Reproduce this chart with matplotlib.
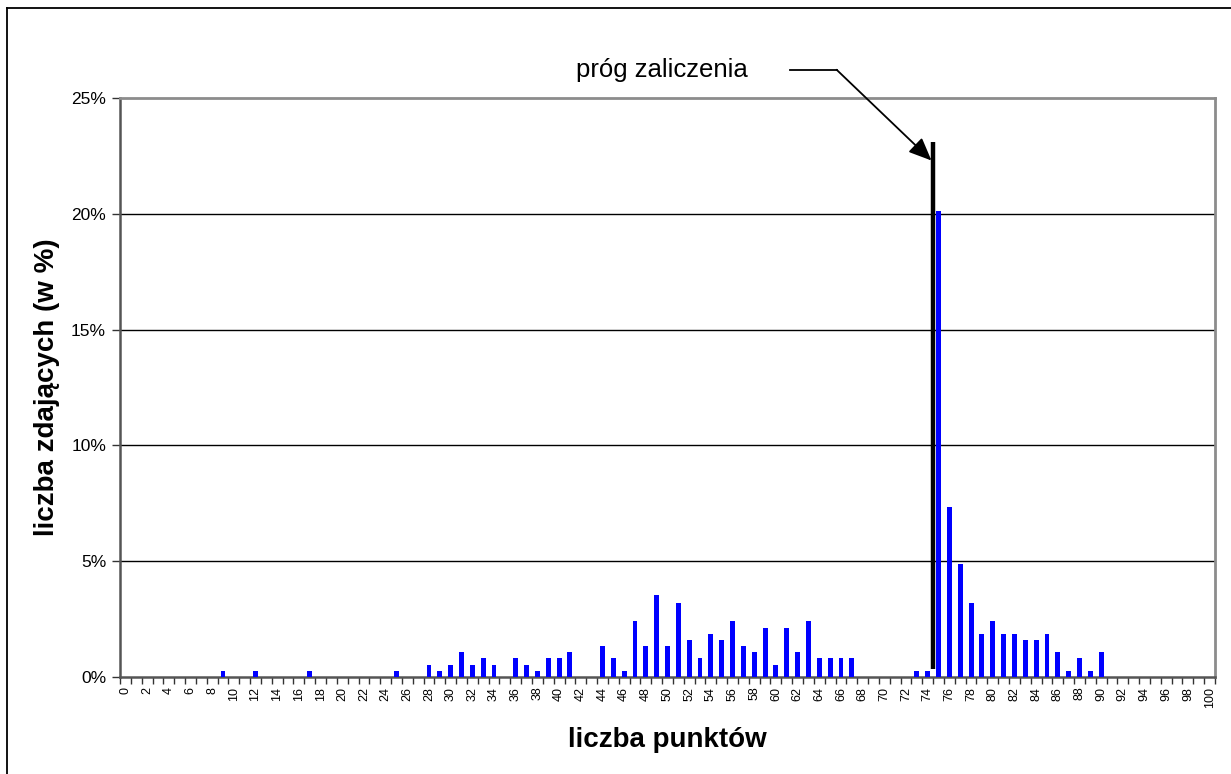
import numpy as np
import matplotlib.pyplot as plt
from matplotlib.lines import Line2D

plt.rcParams['font.family'] = ['Liberation Sans', 'DejaVu Sans']

# liczba punktów 0..100 i odsetek zdających (w %)
punkty = np.arange(0, 101)
procent = np.zeros(101)
odczyt = {
    9: 0.27, 12: 0.27, 17: 0.27, 25: 0.27,
    28: 0.53, 29: 0.27, 30: 0.53, 31: 1.07, 32: 0.53, 33: 0.8, 34: 0.53,
    36: 0.8, 37: 0.53, 38: 0.27, 39: 0.8, 40: 0.8, 41: 1.07,
    44: 1.33, 45: 0.8, 46: 0.27, 47: 2.4, 48: 1.33, 49: 3.53, 50: 1.33,
    51: 3.2, 52: 1.6, 53: 0.8, 54: 1.87, 55: 1.6, 56: 2.4, 57: 1.33,
    58: 1.07, 59: 2.13, 60: 0.53, 61: 2.13, 62: 1.07, 63: 2.4,
    64: 0.8, 65: 0.8, 66: 0.8, 67: 0.8,
    73: 0.27, 74: 0.27, 75: 20.13, 76: 7.33, 77: 4.87, 78: 3.2,
    79: 1.87, 80: 2.4, 81: 1.87, 82: 1.87, 83: 1.6, 84: 1.6, 85: 1.87,
    86: 1.07, 87: 0.27, 88: 0.8, 89: 0.27, 90: 1.07,
}
for k, v in odczyt.items():
    procent[k] = v

prog = 74.5
y_ticks = [0, 5, 10, 15, 20, 25]

fig = plt.figure(figsize=(12.31, 7.74), dpi=100)
ax = fig.add_axes([120 / 1231, 97 / 774, 1095 / 1231, 579 / 774])

ax.bar(punkty, procent, width=0.45, color='#0000ff', zorder=3)

ax.set_xlim(-0.5, 100.5)
ax.set_ylim(0, 25)

ax.set_yticks(y_ticks)
ax.set_yticklabels([f'{t}%' for t in y_ticks], fontsize=12.5)
ax.tick_params(axis='y', length=6, width=1, color='#333333', pad=4)
for t in y_ticks[1:-1]:
    ax.axhline(t, color='black', lw=1, zorder=1)

ax.set_xticks(punkty[::2])
ax.set_xticklabels([str(p) for p in punkty[::2]], rotation=90, fontsize=9)
ax.set_xticks(np.arange(-0.5, 101, 1), minor=True)
ax.tick_params(axis='x', which='major', length=0, pad=7)
ax.tick_params(axis='x', which='minor', length=5, width=1, color='#333333')

for s in ['top', 'right']:
    ax.spines[s].set_color('#8c8c8c')
    ax.spines[s].set_linewidth(2)
for s in ['left', 'bottom']:
    ax.spines[s].set_color('#555555')
    ax.spines[s].set_linewidth(1.8)

ax.set_xlabel('liczba punktów', fontsize=20, fontweight='bold', labelpad=14)
ax.set_ylabel('liczba zdających (w %)', fontsize=20, fontweight='bold', labelpad=8)

# próg zaliczenia
ax.plot([prog, prog], [0.35, 23.1], color='black', lw=3.2, zorder=4, solid_capstyle='butt')
ax.plot([61.3, 65.6], [26.22, 26.22], color='black', lw=1.3, clip_on=False)
ax.annotate('', xy=(74.35, 22.3), xytext=(65.6, 26.22),
            arrowprops=dict(arrowstyle='-|>,head_length=1.4,head_width=0.6',
                            color='black', lw=1.3, shrinkA=0, shrinkB=0),
            annotation_clip=False)
ax.text(49.5, 26.2, 'próg zaliczenia', fontsize=18.5, ha='center', va='center')

# ramka wykresu
fig.add_artist(Line2D([7 / 1231, 1.0], [1 - 8 / 774, 1 - 8 / 774], color='black', lw=1.3))
fig.add_artist(Line2D([7 / 1231, 7 / 1231], [0, 1 - 8 / 774], color='black', lw=1.3))

fig.savefig('out.png', dpi=100)
